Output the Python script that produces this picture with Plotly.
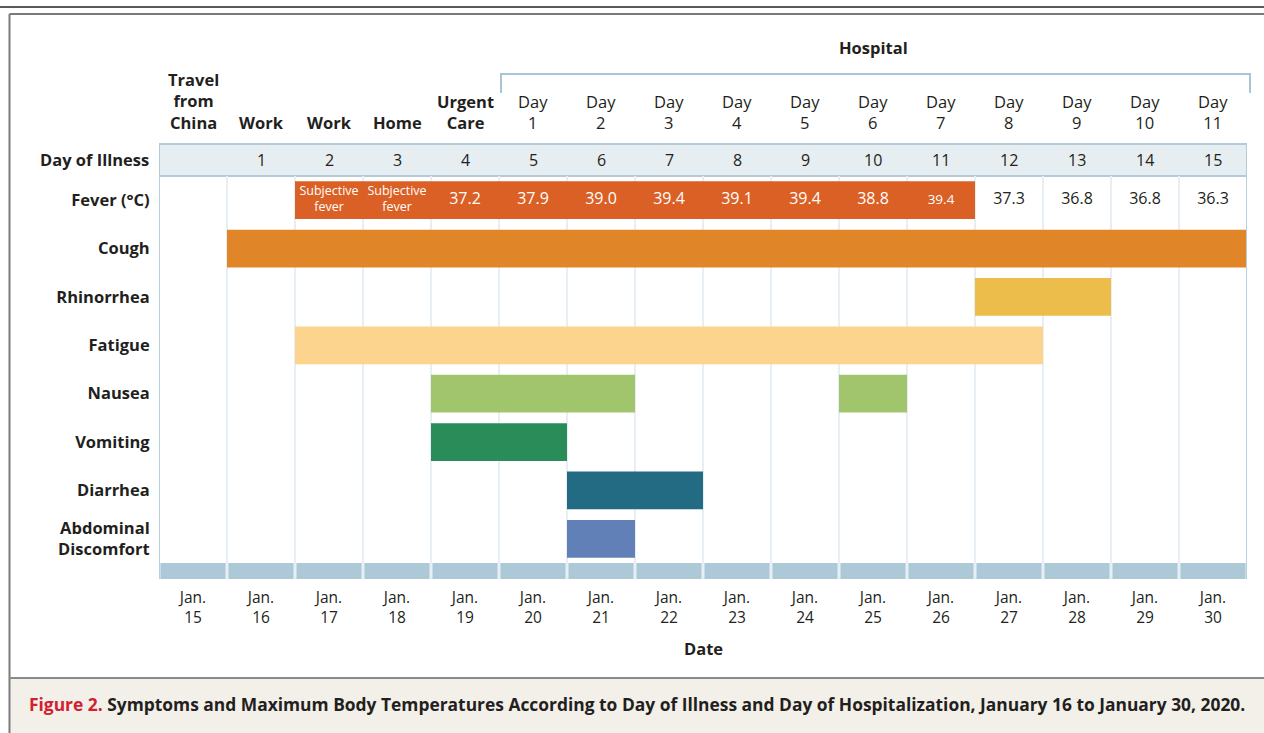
import plotly.graph_objects as go

# ---------------- data ----------------
date_days = [15, 16, 17, 18, 19, 20, 21, 22, 23, 24, 25, 26, 27, 28, 29, 30]
date_labels = ["Jan.<br>%d" % d for d in date_days]
illness_day = ["", "1", "2", "3", "4", "5", "6", "7", "8", "9", "10", "11", "12", "13", "14", "15"]
stage_labels = ["Travel<br>from<br>China", "Work", "Work", "Home", "Urgent<br>Care",
                "Day<br>1", "Day<br>2", "Day<br>3", "Day<br>4", "Day<br>5", "Day<br>6", "Day<br>7",
                "Day<br>8", "Day<br>9", "Day<br>10", "Day<br>11"]
stage_is_hospital = [False] * 5 + [True] * 11
symptoms = ["Fever (°C)", "Cough", "Rhinorrhea", "Fatigue", "Nausea", "Vomiting", "Diarrhea", "Abdominal<br>Discomfort"]

# symptom episodes: (symptom, first day, last day) as January dates
episodes = [
    ("Fever (°C)", 17, 26),
    ("Cough", 16, 30),
    ("Rhinorrhea", 27, 28),
    ("Fatigue", 17, 27),
    ("Nausea", 19, 21),
    ("Nausea", 25, 25),
    ("Vomiting", 19, 20),
    ("Diarrhea", 21, 22),
    ("Abdominal<br>Discomfort", 21, 21),
]
symptom_colors = {
    "Fever (°C)": "#db6025",
    "Cough": "#e08628",
    "Rhinorrhea": "#ecbd4b",
    "Fatigue": "#fdd48e",
    "Nausea": "#a0c56d",
    "Vomiting": "#2a8c58",
    "Diarrhea": "#236a83",
    "Abdominal<br>Discomfort": "#6180b8",
}
fever_values = ["", "", "Subjective<br>fever", "Subjective<br>fever", "37.2", "37.9", "39.0", "39.4",
                "39.1", "39.4", "38.8", "39.4", "37.3", "36.8", "36.8", "36.3"]

# ---------------- layout helpers ----------------
W, H = 1264, 733
FONT = "Open Sans"
DARK = "#231f20"
BOLD = 700
def px(x):
    return x / W
def py(y):
    return 1 - y / H

X0, X1 = 159, 1247          # grid left/right
Y_TOP, Y_GRID_BOT, Y_BAND_BOT = 176, 563, 579
row_h = (Y_GRID_BOT - Y_TOP) / len(symptoms)
y_extra = (Y_BAND_BOT - Y_GRID_BOT) / row_h

fig = go.Figure()

# symptom bars
for s in symptoms:
    eps = [e for e in episodes if e[0] == s]
    if not eps:
        continue
    bases = [date_days.index(a) for _, a, b in eps]
    lens = [date_days.index(b) - date_days.index(a) + 1 for _, a, b in eps]
    fig.add_trace(go.Bar(
        y=[s] * len(eps), x=lens, base=bases, orientation="h",
        marker=dict(color=symptom_colors[s], line=dict(width=0)),
        width=0.78, hoverinfo="skip", showlegend=False,
    ))

# fever values
fever_start = date_days.index(17)
fever_end = date_days.index(26)
fx, ft, fc, fs = [], [], [], []
for i, v in enumerate(fever_values):
    if not v:
        continue
    fx.append(i + 0.5)
    ft.append(v)
    inside = fever_start <= i <= fever_end
    fc.append("white" if inside else DARK)
    if "Subjective" in v:
        fs.append(12.5)
    elif i == fever_end:
        fs.append(13.5)
    else:
        fs.append(16)
fig.add_trace(go.Scatter(
    x=fx, y=[symptoms[0]] * len(fx), mode="text", text=ft,
    textfont=dict(color=fc, size=fs, family=FONT), textposition="middle center",
    hoverinfo="skip", showlegend=False,
))

fig.update_layout(
    width=W, height=H, margin=dict(l=0, r=0, t=0, b=0),
    paper_bgcolor="white", plot_bgcolor="white",
    barmode="overlay", font=dict(family=FONT, color=DARK),
    xaxis=dict(
        domain=[px(X0), px(X1)], range=[0, 16], automargin=False,
        tickmode="array", tickvals=[i + 0.5 for i in range(16)], ticktext=date_labels,
        tickfont=dict(size=15.5, color=DARK, family=FONT),
        ticks="outside", ticklen=4, tickcolor="rgba(0,0,0,0)",
        showgrid=False, zeroline=False, showline=False, fixedrange=True,
        minor=dict(tickvals=list(range(1, 16)), showgrid=True, gridcolor="#e8eff4", gridwidth=2, ticks=""),
    ),
    yaxis=dict(
        domain=[py(Y_BAND_BOT), py(Y_TOP)], type="category",
        categoryorder="array", categoryarray=symptoms,
        range=[len(symptoms) - 0.5 + y_extra, -0.5], automargin=False,
        tickmode="array", tickvals=symptoms, ticktext=symptoms,
        tickfont=dict(size=16.5, color=DARK, family=FONT, weight=BOLD),
        ticks="outside", ticklen=5, tickcolor="rgba(0,0,0,0)",
        showgrid=False, zeroline=False, showline=False, fixedrange=True,
    ),
)

shapes = []
# outer frame
shapes.append(dict(type="line", xref="paper", yref="paper", x0=0, x1=1, y0=py(7), y1=py(7),
                   line=dict(color="#222", width=1.5)))
shapes.append(dict(type="line", xref="paper", yref="paper", x0=px(9.5), x1=1.01, y0=py(14), y1=py(14),
                   line=dict(color="#7a7a7a", width=2)))
shapes.append(dict(type="line", xref="paper", yref="paper", x0=px(9.5), x1=px(9.5), y0=py(14), y1=0,
                   line=dict(color="#7a7a7a", width=2)))
# caption background
shapes.append(dict(type="rect", xref="paper", yref="paper", x0=px(10.5), x1=1.01, y0=0, y1=py(679),
                   fillcolor="#f3f0e9", line=dict(width=0), layer="below"))
shapes.append(dict(type="line", xref="paper", yref="paper", x0=px(9.5), x1=1.01, y0=py(678), y1=py(678),
                   line=dict(color="#8a8a8a", width=2)))
# day-of-illness band
shapes.append(dict(type="rect", xref="x", yref="paper", x0=0, x1=16, y0=py(176), y1=py(144),
                   fillcolor="#e7eef2", line=dict(color="#b3cbd8", width=2), layer="below"))
# grid side borders
for xv in (0, 16):
    shapes.append(dict(type="line", xref="x", yref="paper", x0=xv, x1=xv, y0=py(Y_BAND_BOT), y1=py(176),
                       line=dict(color="#b8cfdc", width=2)))
# bottom band segments
for i in range(16):
    shapes.append(dict(type="rect", xref="x", yref="paper", x0=i + 0.02, x1=i + 0.98,
                       y0=py(Y_BAND_BOT), y1=py(Y_GRID_BOT),
                       fillcolor="#adc8d6", line=dict(width=0), layer="above"))
# hospital bracket
hx0 = date_days.index(20)
shapes.append(dict(type="path", xref="paper", yref="paper",
                   path="M %f,%f L %f,%f L %f,%f L %f,%f" % (
                       px(X0 + hx0 * (X1 - X0) / 16 + 2), py(93), px(X0 + hx0 * (X1 - X0) / 16 + 2), py(74),
                       px(1250), py(74), px(1250), py(93)),
                   line=dict(color="#a9c4d4", width=2)))
fig.update_layout(shapes=shapes)

ann = []
for i, lab in enumerate(stage_labels):
    ann.append(dict(x=i + 0.5, xref="x", y=py(136), yref="paper", text=lab, showarrow=False,
                    xanchor="center", yanchor="bottom",
                    font=dict(size=16.5, color=DARK, family=FONT,
                              weight="normal" if stage_is_hospital[i] else BOLD)))
for i, d in enumerate(illness_day):
    if d:
        ann.append(dict(x=i + 0.5, xref="x", y=py(160), yref="paper", text=d, showarrow=False,
                        xanchor="center", yanchor="middle", font=dict(size=16, color=DARK, family=FONT)))
ann.append(dict(x=px(151), xref="paper", y=py(160), yref="paper", text="Day of Illness", showarrow=False,
                xanchor="right", yanchor="middle", font=dict(size=16.5, color=DARK, family=FONT, weight=BOLD)))
ann.append(dict(x=date_days.index(25) + 0.5, xref="x", y=py(48), yref="paper", text="Hospital",
                showarrow=False, xanchor="center", yanchor="middle",
                font=dict(size=16.5, color=DARK, family=FONT, weight=BOLD)))
ann.append(dict(x=8, xref="x", y=py(648), yref="paper", text="Date", showarrow=False,
                xanchor="center", yanchor="middle", font=dict(size=16.5, color=DARK, family=FONT, weight=BOLD)))
ann.append(dict(x=px(27), xref="paper", y=py(704), yref="paper",
                text="<span style='color:#d2202f'>Figure 2.</span> Symptoms and Maximum Body Temperatures According to Day of Illness and Day of Hospitalization, January 16 to January 30, 2020.",
                showarrow=False, xanchor="left", yanchor="middle",
                font=dict(size=17.4, color=DARK, family=FONT, weight=BOLD)))
fig.update_layout(annotations=ann)

fig.write_html("out.html", config={"displayModeBar": False},
               post_script="document.body.style.margin='0';document.body.style.overflow='hidden';")
